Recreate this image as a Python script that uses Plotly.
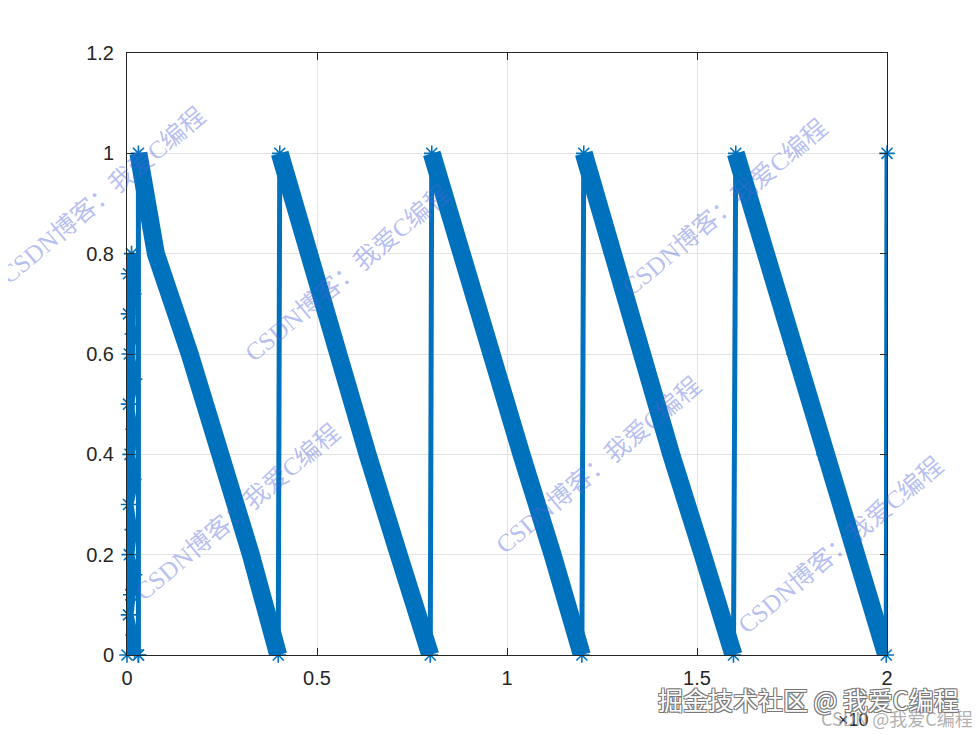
import plotly.graph_objects as go

BLUE = "#0072BD"

# ---- data ----
# initial cluster of samples near x = 0
init_x = [0.000, 0.012, 0.004, 0.018, 0.004, 0.014, 0.006, 0.020, 0.004, 0.016,
          0.008, 0.018, 0.004, 0.014, 0.006, 0.020, 0.010, 0.004, 0.016, 0.020, 0.030]
init_y = [0.000, 0.800, 0.760, 0.720, 0.680, 0.640, 0.600, 0.550, 0.500, 0.450,
          0.400, 0.350, 0.300, 0.250, 0.200, 0.160, 0.120, 0.080, 0.040, 0.010, 0.000]

# sawtooth ramps: x positions at the y levels below
level_y = [1.0, 0.8, 0.6, 0.4, 0.2, 0.0]
ramp1_x = [0.030, 0.076, 0.165, 0.247, 0.326, 0.398]
ramp2_x = [0.402, 0.476, 0.553, 0.633, 0.715, 0.798]
ramp3_x = [0.802, 0.878, 0.955, 1.038, 1.120, 1.197]
ramp4_x = [1.202, 1.275, 1.353, 1.432, 1.515, 1.596]
ramp5_x = [1.602, 1.680, 1.755, 1.834, 1.918, 1.998]
end_x = [2.000]
end_y = [1.000]

x_tickvals = [0, 0.5, 1, 1.5, 2]
x_ticktext = ["0", "0.5", "1", "1.5", "2"]
y_tickvals = [0, 0.2, 0.4, 0.6, 0.8, 1.0, 1.2]
y_ticktext = ["0", "0.2", "0.4", "0.6", "0.8", "1", "1.2"]

ramps = [ramp1_x, ramp2_x, ramp3_x, ramp4_x, ramp5_x]

# polyline after the initial cluster
main_x = [init_x[-1]]
main_y = [init_y[-1]]
for r in ramps:
    main_x += r
    main_y += level_y
main_x += end_x
main_y += end_y

# thick band along ramps
band_x, band_y = [], []
for r in ramps:
    band_x += r + [None]
    band_y += level_y + [None]

marker_style = dict(symbol="asterisk-open", size=13, color=BLUE,
                    line=dict(color=BLUE, width=1.6))

fig = go.Figure()
# dense initial cluster
fig.add_trace(go.Scatter(
    x=init_x, y=init_y, mode="lines+markers",
    line=dict(color=BLUE, width=10), marker=marker_style,
    cliponaxis=False, showlegend=False))
fig.add_trace(go.Scatter(
    x=band_x, y=band_y, mode="lines",
    line=dict(color=BLUE, width=18), cliponaxis=False, showlegend=False,
    hoverinfo="skip"))
fig.add_trace(go.Scatter(
    x=main_x, y=main_y, mode="lines+markers",
    line=dict(color=BLUE, width=5), marker=marker_style,
    cliponaxis=False, showlegend=False))

# ---- layout ----
# the page adds an 8px body margin, so pixel targets are shifted by -8
OFF = 8
L, R, T, B = 127 - OFF, 887 - OFF, 53 - OFF, 655 - OFF
W, H = 980, 735


def px(xp, yp):
    xp -= OFF
    yp -= OFF
    return (xp - L) / (R - L), (B - yp) / (B - T)


axis_common = dict(
    showgrid=True, gridcolor="#e3e3e3", gridwidth=1,
    zeroline=False, showline=True, linecolor="#262626", linewidth=1,
    mirror="ticks", ticks="inside", ticklen=7, tickcolor="#262626",
    tickfont=dict(family="Liberation Sans, Arial, sans-serif", size=20, color="#262626"),
)

fig.update_layout(
    width=W, height=H,
    margin=dict(l=L, r=W - R, t=T, b=H - B),
    paper_bgcolor="white", plot_bgcolor="white",
    xaxis=dict(range=[0, 2], tickvals=x_tickvals, ticktext=x_ticktext,
               ticklabelstandoff=5, **axis_common),
    yaxis=dict(range=[0, 1.2], tickvals=y_tickvals, ticktext=y_ticktext,
               ticklabelstandoff=8, **axis_common),
)

annotations = []

# diagonal CSDN watermarks (centres in reference pixels)
wm_text = "CSDN博客：我爱C编程"
wm_centres = [(103, 196), (347, 273), (237, 512), (598, 465), (725, 208), (840, 545)]
for cx, cy in wm_centres:
    ax_, ay_ = px(cx, cy)
    annotations.append(dict(
        x=ax_, y=ay_, xref="paper", yref="paper", text=wm_text, showarrow=False,
        textangle=-40, xanchor="center", yanchor="middle",
        font=dict(family="Liberation Serif, Noto Sans CJK SC, serif", size=25,
                  color="rgba(80,100,220,0.42)")))

# axis exponent label
ex, ey = px(853, 720)
annotations.append(dict(
    x=ex, y=ey, xref="paper", yref="paper", text="×10", showarrow=False,
    xanchor="center", yanchor="middle",
    font=dict(family="Liberation Sans, Arial, sans-serif", size=18, color="#262626")))

# small CSDN credit
cx_, cy_ = px(897, 718)
annotations.append(dict(
    x=cx_, y=cy_, xref="paper", yref="paper", text="CSDN @我爱C编程", showarrow=False,
    xanchor="center", yanchor="middle",
    font=dict(family="Noto Sans CJK SC, sans-serif", size=18, color="rgba(150,150,150,0.75)")))

# juejin watermark
jx, jy = px(808, 699)
annotations.append(dict(
    x=jx, y=jy, xref="paper", yref="paper", text="掘金技术社区 @ 我爱C编程", showarrow=False,
    xanchor="center", yanchor="middle",
    font=dict(family="Noto Sans CJK SC, sans-serif", size=25, color="white",
              shadow="-1px -1px 0 #777, 1px -1px 0 #777, -1px 1px 0 #777, 1px 1px 0 #777")))

fig.update_layout(annotations=annotations)

fig.write_html("out.html")
